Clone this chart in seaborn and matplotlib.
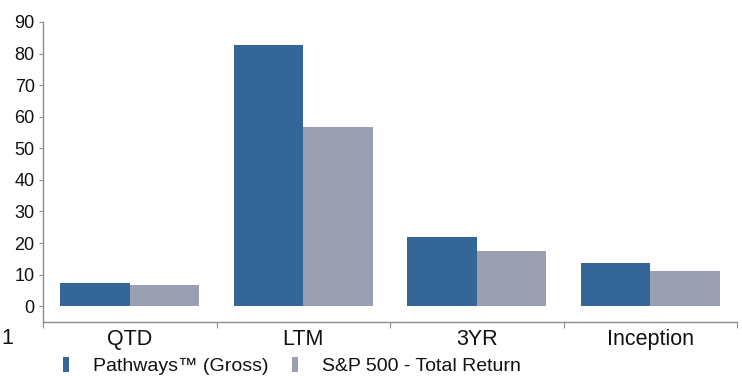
import matplotlib
matplotlib.use("Agg")
import matplotlib.pyplot as plt
from matplotlib.patches import Patch
from matplotlib.ticker import FixedLocator, NullFormatter
import pandas as pd
import seaborn as sns

# Performance periods and returns (%)
periods = ["QTD", "LTM", "3YR", "Inception"]
pathways_gross = [7.3, 82.6, 21.8, 13.6]
sp500_total_return = [6.6, 56.6, 17.4, 11.1]
series_names = ["Pathways\u2122 (Gross)", "S&P 500 - Total Return"]
series_colors = ["#346798", "#9A9FB2"]
y_ticks = list(range(0, 91, 10))

df = pd.DataFrame({
    "period": periods * 2,
    "value": pathways_gross + sp500_total_return,
    "series": [series_names[0]] * len(periods) + [series_names[1]] * len(periods),
})

sns.set_theme(style="white")
plt.rcParams["font.family"] = ["Liberation Sans", "DejaVu Sans"]

W, H = 742, 376
fig = plt.figure(figsize=(W / 100, H / 100), dpi=100)
ax = fig.add_axes([43 / W, 1 - 322 / H, (737 - 43) / W, 300 / H])

sns.barplot(
    data=df, x="period", y="value", hue="series", order=periods,
    hue_order=series_names, palette=series_colors, saturation=1,
    width=0.8, gap=0, linewidth=0, ax=ax, legend=False,
)

ax.set_xlim(-0.5, len(periods) - 0.5)
ax.set_ylim(-5, 90)
ax.set_xlabel("")
ax.set_ylabel("")

axis_grey = "#8C8C8C"
text_col = "#111111"
for side in ["top", "right"]:
    ax.spines[side].set_visible(False)
for side in ["left", "bottom"]:
    ax.spines[side].set_color(axis_grey)
    ax.spines[side].set_linewidth(1.0)

# y axis
ax.set_yticks(y_ticks)
ax.set_yticklabels([str(t) for t in y_ticks])
ax.tick_params(axis="y", which="major", direction="out", length=3, width=0.8,
               color=axis_grey, pad=3, labelsize=13, labelcolor=text_col, left=True)

# x axis: boundary tick marks, category labels centred between them
ax.xaxis.set_major_locator(FixedLocator([i - 0.5 for i in range(len(periods) + 1)]))
ax.xaxis.set_major_formatter(NullFormatter())
ax.xaxis.set_minor_locator(FixedLocator(list(range(len(periods)))))
ax.set_xticklabels(periods, minor=True)
ax.tick_params(axis="x", which="major", direction="out", length=4, width=0.8,
               color=axis_grey, bottom=True)
ax.tick_params(axis="x", which="minor", length=0, pad=5, labelsize=15.5,
               labelcolor=text_col, bottom=True)

fig.text(1 / W, 1 - 338 / H, "1", fontsize=15.5, color=text_col,
         ha="left", va="center")

handles = [Patch(facecolor=c, edgecolor="none", label=n)
           for c, n in zip(series_colors, series_names)]
fs = 14
em = fs * 100 / 72
fig.legend(
    handles=handles, loc="center left",
    bbox_to_anchor=(63 / W, 1 - 366 / H), bbox_transform=fig.transFigure,
    ncol=2, frameon=False, fontsize=fs, borderpad=0, borderaxespad=0,
    handlelength=6 / em, handleheight=15 / em, handletextpad=24 / em,
    columnspacing=23 / em, labelcolor=text_col,
)

fig.savefig("out.png", dpi=100)
